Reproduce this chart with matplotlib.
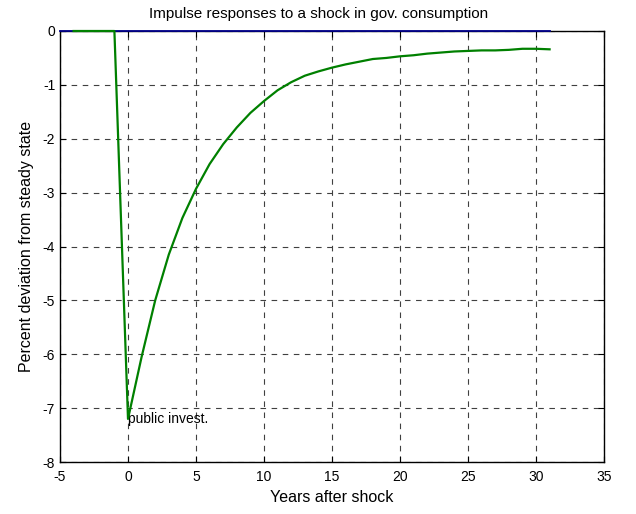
import matplotlib
matplotlib.use("Agg")
import matplotlib.pyplot as plt

# impulse response of public investment, years after shock
years = [-4, -3, -2, -1, 0, 1, 2, 3, 4, 5, 6, 7, 8, 9, 10, 11, 12, 13, 14, 15,
         16, 17, 18, 19, 20, 21, 22, 23, 24, 25, 26, 27, 28, 29, 30, 31]
public_invest = [0, 0, 0, 0, -7.2, -6.05, -5.0, -4.15, -3.47, -2.93, -2.47, -2.1,
                 -1.79, -1.52, -1.3, -1.1, -0.95, -0.83, -0.75, -0.68, -0.62, -0.57,
                 -0.52, -0.5, -0.47, -0.45, -0.42, -0.4, -0.38, -0.37, -0.36, -0.36,
                 -0.35, -0.33, -0.33, -0.34]
zero_years = [-5, 31]
zero_line = [0, 0]

xticks = [-5, 0, 5, 10, 15, 20, 25, 30, 35]
yticks = [-8, -7, -6, -5, -4, -3, -2, -1, 0]

plt.rcParams['font.family'] = ['Liberation Sans', 'DejaVu Sans']
plt.rcParams['axes.unicode_minus'] = False

fig = plt.figure(figsize=(6.36, 5.14), dpi=100)
ax = fig.add_axes([60 / 636, 1 - 462 / 514, 544 / 636, 431 / 514])

ax.plot(zero_years, zero_line, color='#00008b', linewidth=1.3, clip_on=False, zorder=3)
ax.plot(years, public_invest, color='#008000', linewidth=1.6, clip_on=False, zorder=4)
ax.text(0, -7.2, 'public invest.', ha='left', va='center', fontsize=10)

ax.set_xlim(-5, 35)
ax.set_ylim(-8, 0)
ax.set_xticks(xticks)
ax.set_yticks(yticks)
ax.tick_params(direction='in', top=True, right=True, labelsize=10, length=4)
ax.tick_params(axis='x', pad=6)
ax.grid(True, color='0.25', linestyle=(0, (5, 5)), linewidth=0.8)
for s in ax.spines.values():
    s.set_linewidth(1.0)

fig.text(319 / 636, 1 - 14 / 514, 'Impulse responses to a shock in gov. consumption',
         ha='center', va='center', fontsize=11)
ax.set_xlabel('Years after shock', fontsize=11.5, labelpad=4)
ax.set_ylabel('Percent deviation from steady state', fontsize=11.5, labelpad=6)

fig.savefig('out.png', dpi=100)
